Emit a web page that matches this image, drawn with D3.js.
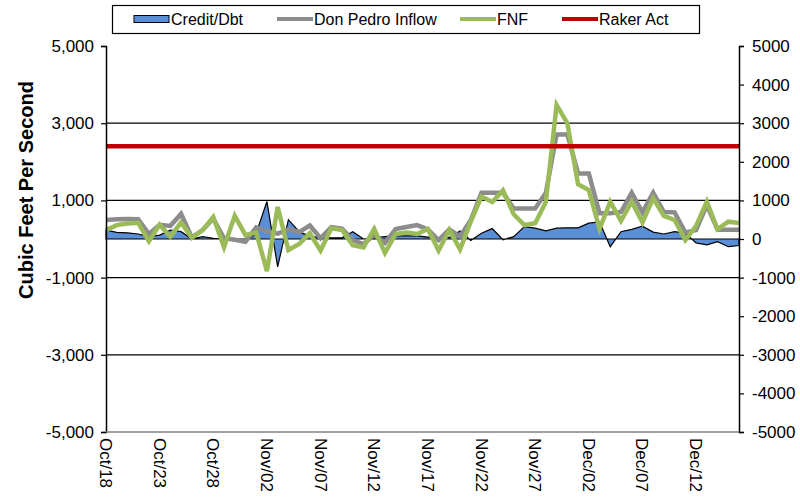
<!DOCTYPE html>
<html>
<head>
<meta charset="utf-8">
<script src="https://cdnjs.cloudflare.com/ajax/libs/d3/7.8.5/d3.min.js"></script>
<style>
  body { margin: 0; background: #fff; }
  svg { display: block; font-family: "Liberation Sans", Arial, sans-serif; }
</style>
</head>
<body>
<div id="chart"></div>
<script>
// daily categories, Oct 18 .. Dec 16
var startDay = new Date(2012, 9, 18),
    endDay = new Date(2012, 11, 17);
var days = d3.timeDay.range(startDay, endDay);

var creditDbt = [230, 170, 160, 130, 60, 100, 230, 190, 0, 60,
    20, 0, -40, -70, 150, 970, -720, 500, 190, 70,
    40, 30, 30, 190, 0, 30, 60, 80, 80, 80,
    50, 20, 40, 210, -40, 150, 270, -20, 60, 320,
    280, 210, 280, 290, 290, 410, 440, -200, 190, 250,
    330, 180, 130, 190, 150, -100, -150, -70, -200, -170];

var donPedro = [490, 510, 520, 510, 130, 370, 340, 650, 40, 230,
    530, 20, -20, -70, 300, 200, 140, 250, 180, 350,
    20, 310, 270, -30, -130, 100, -100, 260, 310, 360,
    250, -30, 250, 60, 490, 1200, 1200, 1200, 790, 790,
    790, 1200, 2710, 2710, 1700, 1700, 670, 670, 700, 1200,
    690, 1200, 700, 690, 170, 230, 880, 240, 240, 240];

var fnf = [230, 360, 400, 420, -60, 370, 60, 430, 30, 230,
    570, -210, 600, 100, 170, -830, 830, -285, -130, 150,
    -300, 277, 233, -160, -220, 260, -360, 130, 170, 130,
    260, -300, 233, -270, 450, 1100, 960, 1260, 640, 363,
    410, 960, 3470, 3000, 1420, 1270, 260, 967, 470, 967,
    430, 1054, 600, 492, -26, 340, 967, 250, 449, 415];

var rakerAct = 2400;

var leftTicks = [-5000, -3000, -1000, 1000, 3000, 5000];
var rightTicks = [-5000, -4000, -3000, -2000, -1000, 0, 1000, 2000, 3000, 4000, 5000];
// every 5th day gets a label
var labelDays = days.filter(function(d, i) { return i % 5 === 0; });

var width = 800,
    height = 499,
    margin = {top: 46, right: 61, bottom: 67, left: 106};

var svg = d3.select("#chart").append("svg")
    .attr("width", width)
    .attr("height", height);

var x = d3.scaleTime()
    .domain([days[0], days[days.length - 1]])
    .range([margin.left, width - margin.right]);

var y = d3.scaleLinear()
    .domain([-5000, 5000])
    .range([height - margin.bottom, margin.top]);

// gridlines
svg.append("g")
    .selectAll("line")
    .data([-3000, -1000, 1000, 3000])
    .enter().append("line")
    .attr("x1", x.range()[0])
    .attr("x2", x.range()[1])
    .attr("y1", function(d) { return y(d); })
    .attr("y2", function(d) { return y(d); })
    .attr("stroke", "#000")
    .attr("stroke-width", 1.2);

// credit / debit area
var area = d3.area()
    .x(function(d, i) { return x(days[i]); })
    .y0(y(0))
    .y1(function(d) { return y(d); });

svg.append("path")
    .datum(creditDbt)
    .attr("d", area)
    .attr("fill", "#5b8fd5")
    .attr("stroke", "#000")
    .attr("stroke-width", 1.2)
    .attr("stroke-linejoin", "miter");

var line = d3.line()
    .x(function(d, i) { return x(days[i]); })
    .y(function(d) { return y(d); });

svg.append("path")
    .datum(donPedro)
    .attr("d", line)
    .attr("fill", "none")
    .attr("stroke", "#8c8c8c")
    .attr("stroke-width", 4.5);

svg.append("path")
    .datum(fnf)
    .attr("d", line)
    .attr("fill", "none")
    .attr("stroke", "#9bbb59")
    .attr("stroke-width", 4.5);

svg.append("line")
    .attr("x1", x(days[0]))
    .attr("x2", x(days[days.length - 1]))
    .attr("y1", y(rakerAct))
    .attr("y2", y(rakerAct))
    .attr("stroke", "#c00000")
    .attr("stroke-width", 4.5);

// axes
var hyphen = function(fmt) {
    return function(d) { return fmt(d).replace("\u2212", "-"); };
};

var leftAxis = svg.append("g")
    .attr("transform", "translate(" + margin.left + ",0)")
    .call(d3.axisLeft(y).tickValues(leftTicks).tickSize(5).tickPadding(7)
        .tickFormat(hyphen(d3.format(","))));

var rightAxis = svg.append("g")
    .attr("transform", "translate(" + (width - margin.right) + ",0)")
    .call(d3.axisRight(y).tickValues(rightTicks).tickSize(5).tickPadding(8)
        .tickFormat(hyphen(d3.format("d"))));

[leftAxis, rightAxis].forEach(function(a) {
    a.select(".domain").attr("stroke", "#000").attr("stroke-width", 1.5);
    a.selectAll(".tick line").attr("stroke", "#000").attr("stroke-width", 1.2);
    a.selectAll("text")
        .attr("font-size", 17)
        .attr("font-family", "Liberation Sans, Arial, sans-serif")
        .attr("fill", "#000");
});

svg.append("line")
    .attr("x1", margin.left)
    .attr("x2", width - margin.right)
    .attr("y1", y(-5000))
    .attr("y2", y(-5000))
    .attr("stroke", "#808080")
    .attr("stroke-width", 1.5);

svg.append("g")
    .selectAll("text")
    .data(labelDays)
    .enter().append("text")
    .attr("transform", function(d) {
        return "translate(" + (x(d) - 6) + "," + (y(-5000) + 6) + ") rotate(90)";
    })
    .attr("font-size", 17)
    .attr("text-anchor", "start")
    .text(d3.timeFormat("%b/%d"));

// y title
svg.append("text")
    .attr("transform", "translate(33,190) rotate(-90)")
    .attr("text-anchor", "middle")
    .attr("font-size", 20)
    .attr("font-weight", "bold")
    .text("Cubic Feet Per Second");

// legend
var legendItems = [
    {name: "Credit/Dbt", type: "area", color: "#5b8fd5", x: 134},
    {name: "Don Pedro Inflow", type: "line", color: "#8c8c8c", x: 277},
    {name: "FNF", type: "line", color: "#9bbb59", x: 460},
    {name: "Raker Act", type: "line", color: "#c00000", x: 562}
];

svg.append("rect")
    .attr("x", 112.5)
    .attr("y", 5.5)
    .attr("width", 587)
    .attr("height", 28)
    .attr("fill", "#fff")
    .attr("stroke", "#000")
    .attr("stroke-width", 1.2);

var legend = svg.selectAll(".legend")
    .data(legendItems)
    .enter().append("g")
    .attr("class", "legend")
    .attr("transform", function(d) { return "translate(" + d.x + ",19)"; });

legend.append("rect")
    .filter(function(d) { return d.type === "area"; })
    .attr("x", 0)
    .attr("y", -3.5)
    .attr("width", 35)
    .attr("height", 7)
    .attr("fill", function(d) { return d.color; })
    .attr("stroke", "#000");

legend.filter(function(d) { return d.type === "line"; })
    .append("line")
    .attr("x1", 0)
    .attr("x2", 36)
    .attr("stroke", function(d) { return d.color; })
    .attr("stroke-width", 4);

legend.append("text")
    .attr("x", 37)
    .attr("dy", "0.35em")
    .attr("font-size", 16)
    .text(function(d) { return d.name; });
</script>
</body>
</html>
